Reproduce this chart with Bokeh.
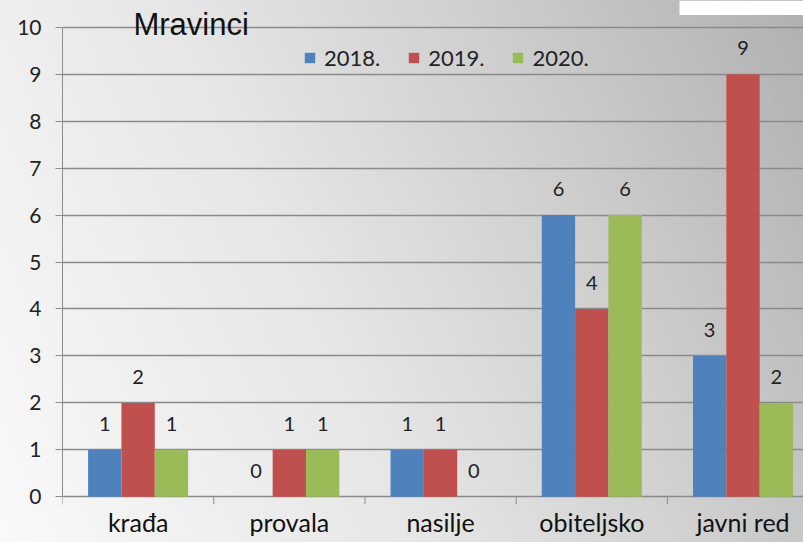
from bokeh.plotting import figure
from bokeh.models import (ColumnDataSource, Range1d, LinearAxis, FixedTicker, LabelSet,
                          Legend, LegendItem, Label, BoxAnnotation, Grid, GlobalInlineStyleSheet)
from bokeh.core.properties import value
from bokeh.embed import file_html
from bokeh.resources import INLINE

# ---- data ----
categories = ["krađa", "provala", "nasilje", "obiteljsko", "javni red"]
years = ["2018.", "2019.", "2020."]
v2018 = [1, 0, 1, 6, 3]
v2019 = [2, 1, 1, 4, 9]
v2020 = [1, 1, 0, 6, 2]
series = [v2018, v2019, v2020]
colors = ["#4f81bd", "#c0504d", "#9bbb59"]
y_ticks = list(range(0, 11))
title_text = "Mravinci"

W, H = 803, 542
FONT = "Lato"
BAR_W = 0.2205
Y_TOP = 10.571     # room above the 10 line for title and legend
Y_BOT = -0.1647    # room below 0 for the category tick marks
AXIS_COL = "#8c8c8c"

p = figure(width=W, height=H, output_backend="svg", toolbar_location=None,
           x_range=Range1d(0, 4.9), y_range=Range1d(Y_BOT, Y_TOP),
           min_border_left=62, min_border_right=0, min_border_top=0, min_border_bottom=38,
           x_axis_type=None, y_axis_type=None)
p.background_fill_alpha = 0
p.border_fill_alpha = 0
p.outline_line_color = None
p.styles = {"background": "linear-gradient(65deg, #f9f9f9 0%, #e6e6e6 40%, #cdcdcd 70%, #b0b0b0 100%)"}
p.stylesheets = [GlobalInlineStyleSheet(css="html, body { margin: 0; padding: 0; overflow: hidden; }")]

# y axis
yaxis = LinearAxis(ticker=FixedTicker(ticks=y_ticks), bounds=(0, 10))
yaxis.axis_line_color = AXIS_COL
yaxis.major_tick_line_color = AXIS_COL
yaxis.major_tick_out = 7
yaxis.major_tick_in = 0
yaxis.minor_tick_line_color = None
yaxis.major_label_standoff = 14
yaxis.major_label_text_font = FONT
yaxis.major_label_text_font_size = "21px"
yaxis.major_label_text_color = "#222222"
p.add_layout(yaxis, "left")

grid = Grid(dimension=1, ticker=yaxis.ticker)
grid.grid_line_color = "#8a8a8a"
grid.grid_line_width = 1.5
p.add_layout(grid)

# category boundary tick marks below the zero line
n = len(categories)
bounds_x = list(range(n))
p.segment(x0=bounds_x, y0=[0] * n, x1=bounds_x, y1=[Y_BOT] * n,
          line_color=AXIS_COL, line_width=1)

# x axis: category labels at centers
centers = [i + 0.5 for i in range(n)]
xaxis = LinearAxis(ticker=FixedTicker(ticks=centers))
xaxis.axis_line_color = None
xaxis.major_tick_line_color = None
xaxis.minor_tick_line_color = None
xaxis.major_tick_out = 0
xaxis.major_tick_in = 0
xaxis.major_label_overrides = {c: categories[i] for i, c in enumerate(centers)}
xaxis.major_label_text_font = FONT
xaxis.major_label_text_font_size = "25px"
xaxis.major_label_text_color = "#111111"
xaxis.major_label_standoff = 2
p.add_layout(xaxis, "below")

# bars and labels
items = []
for i, vals in enumerate(series):
    xs = [j + 0.5 + (i - 1) * BAR_W for j in range(n)]
    src = ColumnDataSource(dict(x=xs, top=vals, label=[str(v) for v in vals]))
    r = p.vbar(x="x", top="top", width=BAR_W, source=src, fill_color=colors[i], line_color=None)
    items.append(LegendItem(label=years[i], renderers=[r]))
    ls = LabelSet(x="x", y="top", text="label", source=src, text_align="center",
                  text_baseline="alphabetic", y_offset=19, text_font=value(FONT),
                  text_font_size=value("20px"), text_color="#222222")
    p.add_layout(ls)

legend = Legend(items=items, orientation="horizontal", location=(241, 433),
                glyph_width=13, glyph_height=13, label_height=13, label_standoff=8,
                spacing=27, padding=0, margin=0, border_line_color=None,
                background_fill_alpha=0, label_text_font=FONT, label_text_font_size="22px",
                label_text_color="#222222")
p.add_layout(legend)

title = Label(x=0.469, y=10.05, text=title_text, text_font="Liberation Sans",
              text_font_size="31px", text_baseline="alphabetic", text_color="#111111")
p.add_layout(title)

logo = BoxAnnotation(left=4.08, right=4.9, bottom=10.26, top=Y_TOP, fill_color="white",
                     fill_alpha=1, line_color=None)
p.add_layout(logo)

open("out.html", "w").write(file_html(p, INLINE))
